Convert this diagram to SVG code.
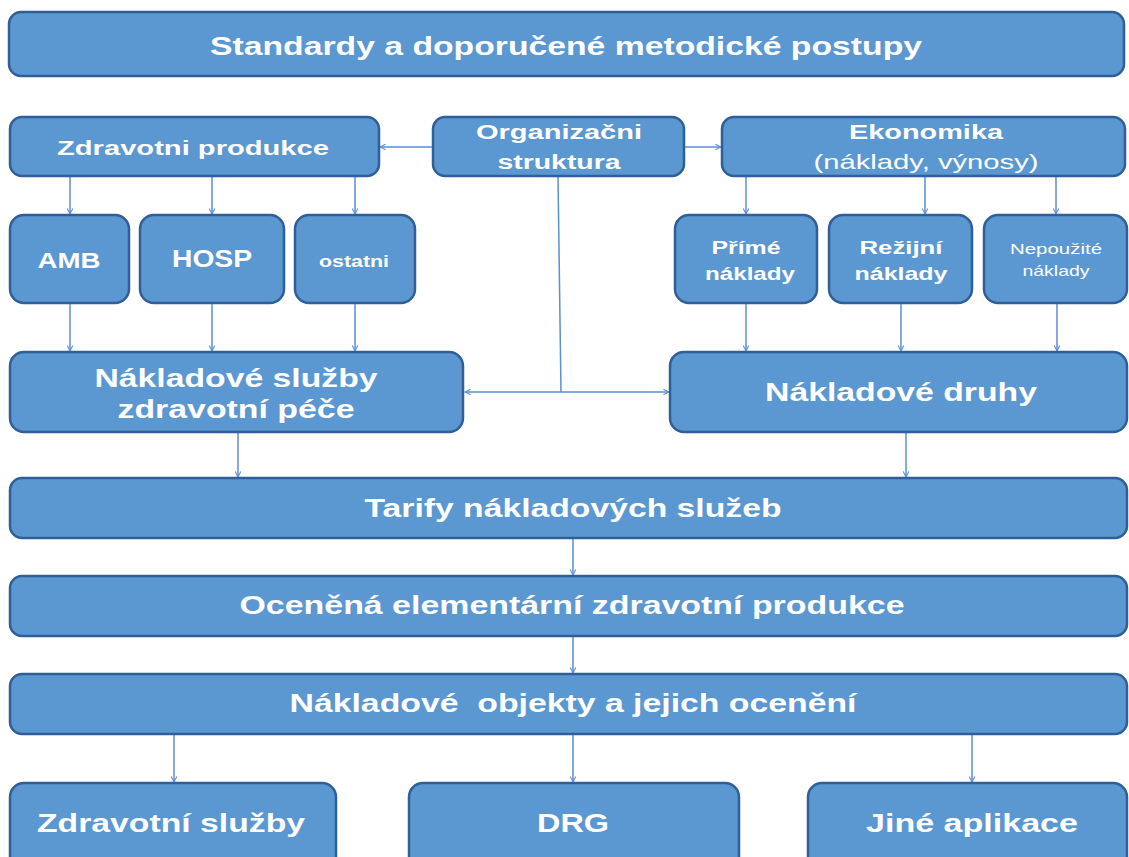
<svg xmlns="http://www.w3.org/2000/svg" width="1129" height="857" viewBox="0 0 1129 857">
<defs>
<style>
.box{fill:#5b97d0;stroke:#2f5f96;stroke-width:2.5}
.t{font-family:"Liberation Sans",Arial,sans-serif;font-weight:bold;fill:#ffffff;text-anchor:middle}
.r{font-weight:normal}
.c{stroke:#5b8fd4;stroke-width:1.5;fill:none}
</style>
<marker id="ah" viewBox="0 0 10 10" refX="9" refY="5" markerWidth="7" markerHeight="7" orient="auto-start-reverse" markerUnits="userSpaceOnUse">
<path d="M1,1 L9,5 L1,9" fill="none" stroke="#5b8fd4" stroke-width="1.5"/>
</marker>
</defs>
<rect width="1129" height="857" fill="#ffffff"/>
<g id="connectors">
<path class="c" d="M433,147 H380" marker-end="url(#ah)"/>
<path class="c" d="M684,147 H721" marker-end="url(#ah)"/>
<path class="c" d="M70,177 V214" marker-end="url(#ah)"/>
<path class="c" d="M212,177 V214" marker-end="url(#ah)"/>
<path class="c" d="M355,177 V214" marker-end="url(#ah)"/>
<path class="c" d="M746,177 V214" marker-end="url(#ah)"/>
<path class="c" d="M925,177 V214" marker-end="url(#ah)"/>
<path class="c" d="M1056,177 V214" marker-end="url(#ah)"/>
<path class="c" d="M70,304 V351" marker-end="url(#ah)"/>
<path class="c" d="M212,304 V351" marker-end="url(#ah)"/>
<path class="c" d="M355,304 V351" marker-end="url(#ah)"/>
<path class="c" d="M746,304 V351" marker-end="url(#ah)"/>
<path class="c" d="M901,304 V351" marker-end="url(#ah)"/>
<path class="c" d="M1057,304 V351" marker-end="url(#ah)"/>
<path class="c" d="M558,177 L561,392"/>
<path class="c" d="M561,392 H465" marker-end="url(#ah)"/>
<path class="c" d="M561,392 H669" marker-end="url(#ah)"/>
<path class="c" d="M238,433 V477" marker-end="url(#ah)"/>
<path class="c" d="M906,433 V477" marker-end="url(#ah)"/>
<path class="c" d="M573,539 V575" marker-end="url(#ah)"/>
<path class="c" d="M573,637 V673" marker-end="url(#ah)"/>
<path class="c" d="M174,735 V782" marker-end="url(#ah)"/>
<path class="c" d="M573,735 V782" marker-end="url(#ah)"/>
<path class="c" d="M972,735 V782" marker-end="url(#ah)"/>
</g>
<g id="standardy">
<rect class="box" x="9" y="12" width="1115" height="64" rx="12"/>
<text class="t" x="566" y="55" font-size="26" textLength="712" lengthAdjust="spacingAndGlyphs">Standardy a doporučené metodické postupy</text>
</g>
<g id="zdravotni-produkce">
<rect class="box" x="10" y="117" width="369" height="59" rx="12"/>
<text class="t" x="193" y="155" font-size="21" textLength="272" lengthAdjust="spacingAndGlyphs">Zdravotni produkce</text>
</g>
<g id="organizacni-struktura">
<rect class="box" x="433" y="117" width="251" height="59" rx="12"/>
<text class="t" x="559" y="139" font-size="20" textLength="166" lengthAdjust="spacingAndGlyphs">Organizačni</text>
<text class="t" x="559" y="169" font-size="20" textLength="123" lengthAdjust="spacingAndGlyphs">struktura</text>
</g>
<g id="ekonomika">
<rect class="box" x="722" y="117" width="403" height="59" rx="12"/>
<text class="t" x="926" y="139" font-size="20" textLength="154" lengthAdjust="spacingAndGlyphs">Ekonomika</text>
<text class="t r" x="926" y="169" font-size="21" textLength="225" lengthAdjust="spacingAndGlyphs">(náklady, výnosy)</text>
</g>
<g id="amb">
<rect class="box" x="10" y="215" width="119" height="88" rx="14"/>
<text class="t" x="69" y="268" font-size="22" textLength="63" lengthAdjust="spacingAndGlyphs">AMB</text>
</g>
<g id="hosp">
<rect class="box" x="140" y="215" width="144" height="88" rx="14"/>
<text class="t" x="212" y="267" font-size="23" textLength="80" lengthAdjust="spacingAndGlyphs">HOSP</text>
</g>
<g id="ostatni">
<rect class="box" x="295" y="215" width="120" height="88" rx="14"/>
<text class="t" x="354" y="267" font-size="16" textLength="70" lengthAdjust="spacingAndGlyphs">ostatni</text>
</g>
<g id="prime-naklady">
<rect class="box" x="675" y="215" width="142" height="88" rx="14"/>
<text class="t" x="746" y="254" font-size="19" textLength="69" lengthAdjust="spacingAndGlyphs">Přímé</text>
<text class="t" x="750" y="280" font-size="19" textLength="90" lengthAdjust="spacingAndGlyphs">náklady</text>
</g>
<g id="rezijni-naklady">
<rect class="box" x="829" y="215" width="143" height="88" rx="14"/>
<text class="t" x="901" y="254" font-size="19" textLength="83" lengthAdjust="spacingAndGlyphs">Režijní</text>
<text class="t" x="901" y="280" font-size="19" textLength="93" lengthAdjust="spacingAndGlyphs">náklady</text>
</g>
<g id="nepouzite-naklady">
<rect class="box" x="984" y="215" width="143" height="88" rx="14"/>
<text class="t r" x="1056" y="254" font-size="15" textLength="92" lengthAdjust="spacingAndGlyphs">Nepoužité</text>
<text class="t r" x="1056" y="276" font-size="15" textLength="67" lengthAdjust="spacingAndGlyphs">náklady</text>
</g>
<g id="nakladove-sluzby">
<rect class="box" x="10" y="352" width="453" height="80" rx="14"/>
<text class="t" x="236" y="387" font-size="25" textLength="283" lengthAdjust="spacingAndGlyphs">Nákladové služby</text>
<text class="t" x="236" y="418" font-size="25" textLength="237" lengthAdjust="spacingAndGlyphs">zdravotní péče</text>
</g>
<g id="nakladove-druhy">
<rect class="box" x="670" y="352" width="457" height="80" rx="14"/>
<text class="t" x="901" y="401" font-size="25" textLength="272" lengthAdjust="spacingAndGlyphs">Nákladové druhy</text>
</g>
<g id="tarify">
<rect class="box" x="10" y="478" width="1117" height="60" rx="12"/>
<text class="t" x="573" y="517" font-size="25" textLength="417" lengthAdjust="spacingAndGlyphs">Tarify nákladových služeb</text>
</g>
<g id="ocenena">
<rect class="box" x="10" y="576" width="1117" height="60" rx="12"/>
<text class="t" x="572" y="614" font-size="25" textLength="665" lengthAdjust="spacingAndGlyphs">Oceněná elementární zdravotní produkce</text>
</g>
<g id="nakladove-objekty">
<rect class="box" x="10" y="674" width="1117" height="60" rx="12"/>
<text class="t" x="573" y="712" font-size="25" textLength="567" lengthAdjust="spacingAndGlyphs" xml:space="preserve">Nákladové  objekty a jejich ocenění</text>
</g>
<g id="zdravotni-sluzby">
<rect class="box" x="10" y="783" width="326" height="90" rx="14"/>
<text class="t" x="171" y="832" font-size="26" textLength="268" lengthAdjust="spacingAndGlyphs">Zdravotní služby</text>
</g>
<g id="drg">
<rect class="box" x="409" y="783" width="330" height="90" rx="14"/>
<text class="t" x="573" y="832" font-size="26" textLength="72" lengthAdjust="spacingAndGlyphs">DRG</text>
</g>
<g id="jine-aplikace">
<rect class="box" x="808" y="783" width="319" height="90" rx="14"/>
<text class="t" x="972" y="832" font-size="26" textLength="212" lengthAdjust="spacingAndGlyphs">Jiné aplikace</text>
</g>
</svg>
